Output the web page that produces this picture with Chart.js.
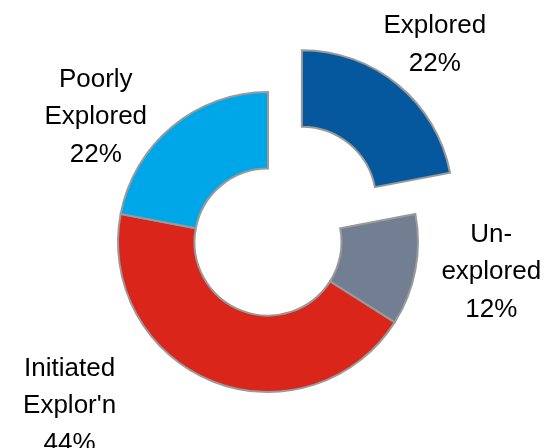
<!DOCTYPE html>
<html>
<head>
<meta charset="utf-8">
<script src="https://cdn.jsdelivr.net/npm/chart.js@4/dist/chart.umd.min.js"></script>
<style>
  html, body { margin: 0; padding: 0; background: #ffffff; }
  #wrap { width: 558px; height: 448px; position: relative; }
</style>
</head>
<body>
<div id="wrap"><canvas id="c" width="558" height="448"></canvas></div>
<script>
// Exploration status shares (percent), clockwise from 12 o'clock
const categories = ['Explored', 'Un-explored', "Initiated Explor'n", 'Poorly Explored'];
const labelLines = [['Explored'], ['Un-', 'explored'], ['Initiated', "Explor'n"], ['Poorly', 'Explored']];
const shares = [22, 12, 44, 22];
const colors = ['#05589E', '#727E91', '#DA251B', '#00A7E8'];

// Label placement around the ring: angular nudge (deg) from each slice's
// mid-angle and distance (px) from the ring centre
const labelNudge = [0.3, -3.7, 29.2, -14.0];
const labelDist = [260, 225, 256, 214];

const sliceLabels = {
  id: 'sliceLabels',
  afterDatasetsDraw(chart) {
    const ctx = chart.ctx;
    const arcs = chart.getDatasetMeta(0).data;
    const fontSize = 26;
    const lineH = 37.5;
    const capH = fontSize * 0.716;
    ctx.save();
    ctx.font = fontSize + 'px "Liberation Sans", Arial, sans-serif';
    ctx.fillStyle = '#000000';
    ctx.textAlign = 'center';
    ctx.textBaseline = 'alphabetic';
    arcs.forEach((arc, i) => {
      const p = arc.getProps(['x', 'y', 'startAngle', 'endAngle'], true);
      const a = (p.startAngle + p.endAngle) / 2 + labelNudge[i] * Math.PI / 180;
      const cx = p.x + Math.cos(a) * labelDist[i];
      const cy = p.y + Math.sin(a) * labelDist[i];
      const lines = labelLines[i].concat([shares[i] + '%']);
      const n = lines.length;
      lines.forEach((t, k) => {
        const by = cy + (k - (n - 1) / 2) * lineH + capH / 2;
        ctx.fillText(t, cx, by);
      });
    });
    ctx.restore();
  }
};

new Chart(document.getElementById('c'), {
  type: 'doughnut',
  data: {
    labels: categories,
    datasets: [{
      data: shares,
      backgroundColor: colors,
      borderColor: '#9A9A9A',
      borderWidth: 2,
      borderJoinStyle: 'miter',
      offset: [212, 0, 0, 0],
      hoverOffset: 0
    }]
  },
  options: {
    responsive: false,
    animation: false,
    events: [],
    radius: 150,
    cutout: '49%',
    layout: { padding: { left: 0, right: 22, top: 36, bottom: 0 } },
    plugins: {
      legend: { display: false },
      tooltip: { enabled: false },
      title: { display: false }
    }
  },
  plugins: [sliceLabels]
});
</script>
</body>
</html>
